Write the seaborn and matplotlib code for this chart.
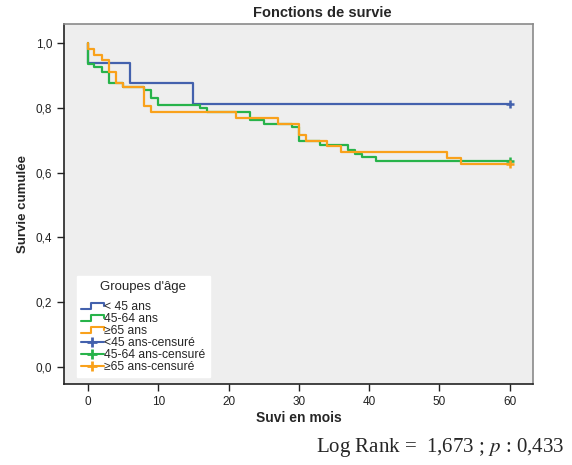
import numpy as np
import pandas as pd
import matplotlib
matplotlib.use('Agg')
import matplotlib.pyplot as plt
import seaborn as sns
from matplotlib.lines import Line2D
from matplotlib.legend_handler import HandlerBase
from matplotlib.ticker import FuncFormatter

# Kaplan-Meier curves
GROUPS = ['< 45 ans', '45-64 ans', '≥65 ans']
CENSOR_LABELS = ['<45 ans-censuré', '45-64 ans-censuré', '≥65 ans-censuré']
COLORS = ['#4361ad', '#27b34a', '#f9a11b']

t_lt45 = [0, 0, 6, 15, 60]
s_lt45 = [1.0, 0.938, 0.877, 0.813, 0.813]

t_45_64 = [0, 0, 0.9, 1.95, 3.0, 5.0, 8.0, 9.0, 10.0, 16.0, 17.0, 23.0, 25.0,
           29.0, 30.0, 33.0, 37.0, 38.0, 39.0, 41.0, 60]
s_45_64 = [1.0, 0.936, 0.926, 0.912, 0.877, 0.866, 0.856, 0.832, 0.810, 0.799,
           0.788, 0.764, 0.752, 0.741, 0.697, 0.686, 0.671, 0.658, 0.649, 0.637, 0.637]

t_ge65 = [0, 0, 0.9, 1.95, 3.0, 4.0, 5.0, 8.0, 9.0, 21.0, 27.0, 30.0, 31.0,
          34.0, 36.0, 51.0, 53.0, 60]
s_ge65 = [1.0, 0.984, 0.965, 0.950, 0.913, 0.877, 0.865, 0.807, 0.787, 0.769,
          0.752, 0.715, 0.697, 0.681, 0.663, 0.644, 0.627, 0.627]

censor_t = [60, 60, 60]
censor_s = [0.813, 0.637, 0.627]

X_TICKS = [0, 10, 20, 30, 40, 50, 60]
Y_TICKS = [0.0, 0.2, 0.4, 0.6, 0.8, 1.0]


class StepHandler(HandlerBase):
    def create_artists(self, legend, orig_handle, xdescent, ydescent,
                       width, height, fontsize, trans):
        lo = -ydescent + 0.15 * height
        hi = -ydescent + 0.85 * height
        x0 = -xdescent
        xs = [x0, x0 + 0.45 * width, x0 + 0.45 * width, x0 + width, x0 + width]
        ys = [lo, lo, hi, hi, 0.5 * (lo + hi)]
        ln = Line2D(xs, ys, color=orig_handle.get_color(), lw=1.5, transform=trans)
        return [ln]


sns.set_style('ticks')
plt.rcParams['font.family'] = ['Liberation Sans', 'DejaVu Sans']
plt.rcParams['mathtext.fontset'] = 'stix'

frames = []
for name, t, s in zip(GROUPS, [t_lt45, t_45_64, t_ge65], [s_lt45, s_45_64, s_ge65]):
    frames.append(pd.DataFrame({'Temps': t, 'Survie': s, 'Groupe': name}))
df = pd.concat(frames, ignore_index=True)

fig = plt.figure(figsize=(5.72, 4.65), dpi=100)
ax = fig.add_axes([64 / 572, 1 - 384 / 465, (533 - 64) / 572, (384 - 24) / 465])
ax.set_facecolor('#eeeeee')

sns.lineplot(data=df, x='Temps', y='Survie', hue='Groupe', hue_order=GROUPS,
             palette=dict(zip(GROUPS, COLORS)), estimator=None, sort=False,
             drawstyle='steps-post', lw=1.6, legend=False, ax=ax)

cens = pd.DataFrame({'Temps': censor_t, 'Survie': censor_s, 'Groupe': GROUPS})
for i, row in cens.iterrows():
    ax.plot(row['Temps'], row['Survie'], marker='+', ms=5.5, mew=1.8,
            color=COLORS[i], ls='none')

ax.set_xlim(-3.4, 63.3)
ax.set_ylim(-0.054, 1.06)
ax.set_xticks(X_TICKS)
ax.set_yticks(Y_TICKS)
ax.yaxis.set_major_formatter(FuncFormatter(lambda v, p: f'{v:.1f}'.replace('.', ',')))
ax.tick_params(axis='both', labelsize=8.5, colors='#222222', length=5, width=1)
for side in ['left', 'bottom']:
    ax.spines[side].set_color('#222222')
    ax.spines[side].set_linewidth(1.2)
for side in ['top', 'right']:
    ax.spines[side].set_visible(True)
    ax.spines[side].set_color('#8a8a8a')
    ax.spines[side].set_linewidth(1.2)

ax.set_xlabel('Suvi en mois', fontsize=10, fontweight='bold', labelpad=2)
ax.set_ylabel('Survie cumulée', fontsize=9.5, fontweight='bold', labelpad=5)

fig.text(322 / 572, 1 - 13 / 465, 'Fonctions de survie', ha='center', va='center',
         fontsize=10.5, fontweight='bold')

handles = [Line2D([], [], color=c) for c in COLORS]
handles += [Line2D([], [], color=c, marker='+', ms=7, mew=2, lw=1.5) for c in COLORS]
labels = GROUPS + CENSOR_LABELS
hmap = {h: StepHandler() for h in handles[:3]}
leg = ax.legend(handles, labels, title="Groupes d'âge\n", loc='lower left',
                bbox_to_anchor=(0.027, 0.019), borderaxespad=0, fontsize=8.7,
                title_fontsize=9.5, labelspacing=0.0, handlelength=1.9,
                handletextpad=0.05, borderpad=0.35, frameon=True, fancybox=False,
                handler_map=hmap)
leg.get_title().set_linespacing(0.6)
leg.get_frame().set_facecolor('white')
leg.get_frame().set_edgecolor('white')
leg.get_frame().set_alpha(1)

fig.text(316 / 572, 1 - 447 / 465, 'Log Rank =  1,673 ; $\\mathit{p}$ : 0,433',
         ha='left', va='center', fontsize=15, family='Liberation Serif')

fig.savefig('out.png', dpi=100)
